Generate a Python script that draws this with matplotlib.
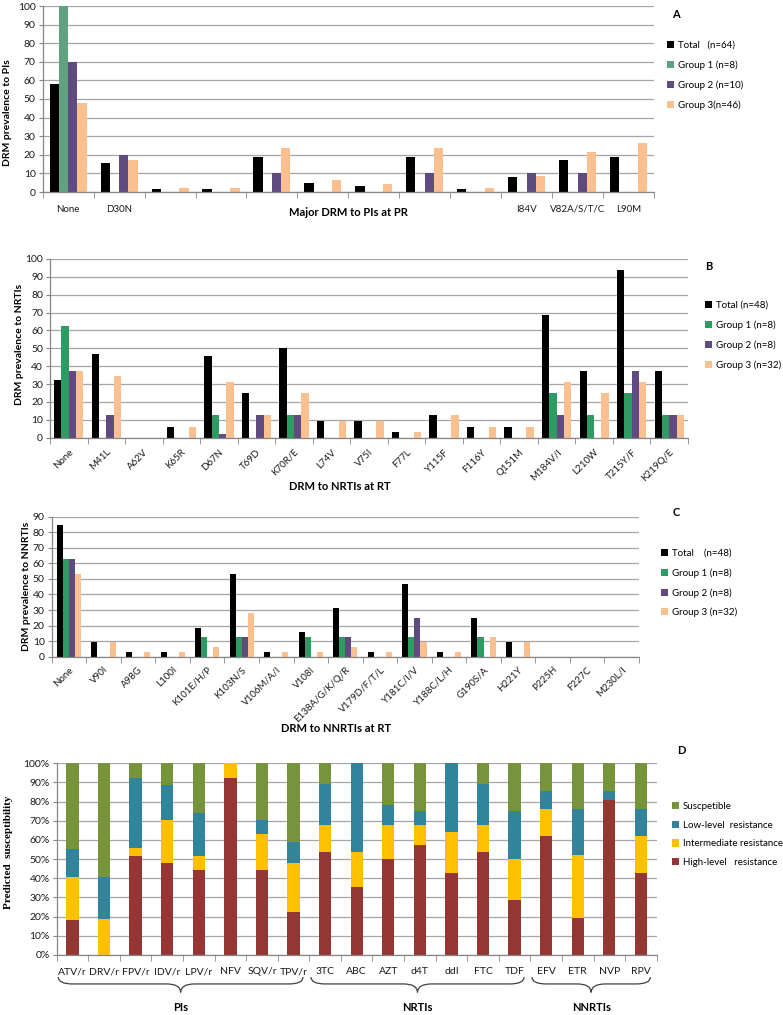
import numpy as np
import matplotlib
matplotlib.use('Agg')
import matplotlib.pyplot as plt
from matplotlib.patches import Patch, PathPatch
from matplotlib.path import Path
import matplotlib.transforms as mtransforms
from matplotlib.ticker import FuncFormatter

plt.rcParams['font.family'] = ['Lato', 'DejaVu Sans']

# ---------------- Panel A: PIs at PR ----------------
a_labels = ["None", "D30N", "", "", "", "", "", "", "", "I84V", "V82A/S/T/C", "L90M"]
a_total = [57.8, 15.6, 1.6, 1.6, 18.8, 4.7, 3.1, 18.8, 1.6, 7.8, 17.2, 18.8]
a_g1 = [100, 0, 0, 0, 0, 0, 0, 0, 0, 0, 0, 0]
a_g2 = [70, 20, 0, 0, 10, 0, 0, 10, 0, 10, 10, 0]
a_g3 = [47.8, 17.4, 2.2, 2.2, 23.9, 6.5, 4.3, 23.9, 2.2, 8.7, 21.7, 26.1]
a_legend = ["Total   (n=64)", "Group 1 (n=8)", "Group 2 (n=10)", "Group 3(n=46)"]

# ---------------- Panel B: NRTIs at RT ----------------
b_labels = ["None", "M41L", "A62V", "K65R", "D67N", "T69D", "K70R/E", "L74V", "V75I",
            "F77L", "Y115F", "F116Y", "Q151M", "M184V/I", "L210W", "T215Y/F", "K219Q/E"]
b_total = [32.5, 46.9, 0, 6.25, 45.8, 25, 50, 9.4, 9.4, 3.1, 12.5, 6.25, 6.25, 68.75, 37.5, 93.75, 37.5]
b_g1 = [62.5, 0, 0, 0, 12.5, 0, 12.5, 0, 0, 0, 0, 0, 0, 25, 12.5, 25, 12.5]
b_g2 = [37.5, 12.5, 0, 0, 2, 12.5, 12.5, 0, 0, 0, 0, 0, 0, 12.5, 0, 37.5, 12.5]
b_g3 = [37.5, 34.4, 0, 6.25, 31.25, 12.5, 25, 9.4, 9.4, 3.1, 12.5, 6.25, 6.25, 31.25, 25, 31.25, 12.5]
b_legend = ["Total (n=48)", "Group 1 (n=8)", "Group 2 (n=8)", "Group 3 (n=32)"]

# ---------------- Panel C: NNRTIs at RT ----------------
c_labels = ["None", "V90I", "A98G", "L100I", "K101E/H/P", "K103N/S", "V106M/A/I", "V108I",
            "E138A/G/K/Q/R", "V179D/F/T/L", "Y181C/I/V", "Y188C/L/H", "G190S/A", "H221Y",
            "P225H", "F227C", "M230L/I"]
c_total = [84.5, 9.4, 3.1, 3.1, 18.75, 53.1, 3.1, 15.6, 31.25, 3.1, 46.9, 3.1, 25, 9.4, 0, 0, 0]
c_g1 = [62.5, 0, 0, 0, 12.5, 12.5, 0, 12.5, 12.5, 0, 12.5, 0, 12.5, 0, 0, 0, 0]
c_g2 = [62.5, 0, 0, 0, 0, 12.5, 0, 0, 12.5, 0, 25, 0, 0, 0, 0, 0, 0]
c_g3 = [53.1, 9.4, 3.1, 3.1, 6.25, 28.1, 3.1, 3.1, 6.25, 3.1, 9.4, 3.1, 12.5, 9.4, 0, 0, 0]
c_legend = ["Total    (n=48)", "Group 1 (n=8)", "Group 2 (n=8)", "Group 3 (n=32)"]

# ---------------- Panel D: predicted susceptibility ----------------
d_labels = ["ATV/r", "DRV/r", "FPV/r", "IDV/r", "LPV/r", "NFV", "SQV/r", "TPV/r",
            "3TC", "ABC", "AZT", "d4T", "ddI", "FTC", "TDF",
            "EFV", "ETR", "NVP", "RPV"]
d_high = [18.5, 0, 51.8, 48.2, 44.3, 92.5, 44.3, 22.3, 53.6, 35.7, 50, 57.2, 42.9, 53.6, 28.7, 62.1, 19.1, 80.9, 42.9]
d_inter = [22, 18.6, 3.8, 22.2, 7.5, 7.5, 18.7, 25.9, 14.2, 17.9, 17.8, 10.6, 21.4, 14.2, 21.2, 14.1, 33.2, 0, 19.2]
d_low = [15, 21.9, 36.9, 18.3, 22.1, 0, 7.4, 10.9, 21.4, 46.4, 10.6, 7.3, 35.7, 21.6, 25.1, 9.5, 23.9, 4.8, 14.1]
d_susc = [44.5, 59.5, 7.5, 11.3, 26.1, 0, 29.6, 40.9, 10.8, 0, 21.6, 24.9, 0, 10.6, 25, 14.3, 23.8, 14.3, 23.8]
d_legend = ["Suscpetible", "Low-level  resistance", "Intermediate resistance", "High-level   resistance"]
d_classes = ["PIs", "NRTIs", "NNRTIs"]
d_class_counts = [8, 7, 4]

# ---------------- styling ----------------
W, H = 783, 1015
C_TOTAL = '#000000'
C_G1A = '#5fa27f'
C_G1 = '#2f9a62'
C_G2 = '#5f4b80'
C_G3 = '#fac090'
C_HIGH = '#943634'
C_INTER = '#ffc000'
C_LOW = '#31849b'
C_SUSC = '#77933c'
GRID = '#a6a6a6'
AXC = '#868686'
TXT = '#1a1a1a'
FS = 7

fig = plt.figure(figsize=(W / 100, H / 100), dpi=100)


def px_ax(l, t, r, b):
    return fig.add_axes([l / W, 1 - b / H, (r - l) / W, (b - t) / H])


def ftext(x, y, s, **kw):
    fig.text(x / W, 1 - y / H, s, **kw)


def style(ax, n, ymax, ystep):
    ax.set_xlim(-0.5, n - 0.5)
    ax.set_ylim(0, ymax)
    ax.set_yticks(np.arange(0, ymax + 0.1, ystep))
    ax.yaxis.grid(True, color=GRID, lw=0.9)
    ax.set_axisbelow(True)
    for s in ['top', 'right']:
        ax.spines[s].set_visible(False)
    for s in ['left', 'bottom']:
        ax.spines[s].set_color(AXC)
        ax.spines[s].set_linewidth(0.9)
    ax.set_xticks(np.arange(n + 1) - 0.5, minor=True)
    ax.tick_params(axis='x', which='minor', length=4, color=AXC, direction='out')
    ax.tick_params(axis='x', which='major', length=0, labelsize=FS, labelcolor=TXT)
    ax.tick_params(axis='y', length=3, color=AXC, labelsize=FS + 0.5, labelcolor=TXT, pad=2)


def grouped(ax, series, colors, width):
    n = len(series[0])
    x = np.arange(n)
    offs = (np.arange(len(series)) - (len(series) - 1) / 2) * width
    for s, c, o in zip(series, colors, offs):
        ax.bar(x + o, s, width, color=c, linewidth=0)


def add_legend(ax, labels, colors, x, y, spacing):
    handles = [Patch(facecolor=c, edgecolor='none') for c in colors]
    ax.legend(handles, labels, loc='upper left', bbox_to_anchor=(x / W, 1 - y / H),
              bbox_transform=fig.transFigure, frameon=False, fontsize=FS,
              handlelength=0.75, handleheight=0.75, handletextpad=0.35,
              labelspacing=spacing, borderpad=0, borderaxespad=0)


# ----- Panel A -----
axA = px_ax(42.7, 6, 654, 192)
grouped(axA, [a_total, a_g1, a_g2, a_g3], [C_TOTAL, C_G1A, C_G2, C_G3], 0.182)
style(axA, len(a_labels), 100, 10)
axA.set_xticks(np.arange(len(a_labels)))
axA.set_xticklabels(a_labels)
axA.tick_params(axis='x', which='major', pad=9)
ftext(348, 212, "Major DRM to PIs at PR", ha='center', va='center', fontsize=8, fontweight='bold')
ftext(8, 113, "DRM prevalence to PIs", rotation=90, ha='center', va='center', fontsize=7.5, fontweight='bold')
ftext(672, 14, "A", ha='left', va='center', fontsize=8, fontweight='bold')
add_legend(axA, a_legend, [C_TOTAL, C_G1A, C_G2, C_G3], 667, 41, 1.08)

# ----- Panel B -----
axB = px_ax(50, 259, 688, 437.7)
grouped(axB, [b_total, b_g1, b_g2, b_g3], [C_TOTAL, C_G1, C_G2, C_G3], 0.195)
style(axB, len(b_labels), 100, 10)
axB.set_xticks(np.arange(len(b_labels)))
axB.set_xticklabels(b_labels, rotation=45, ha='right', va='top', rotation_mode='anchor')
axB.tick_params(axis='x', which='major', pad=7)
ftext(340, 487, "DRM to NRTIs at RT", ha='center', va='center', fontsize=8, fontweight='bold')
ftext(20, 344, "DRM prevalence to NRTIs", rotation=90, ha='center', va='center', fontsize=7.5, fontweight='bold')
ftext(705, 266, "B", ha='left', va='center', fontsize=8, fontweight='bold')
add_legend(axB, b_legend, [C_TOTAL, C_G1, C_G2, C_G3], 705, 301, 1.08)

# ----- Panel C -----
axC = px_ax(51.7, 516.7, 639, 656.7)
grouped(axC, [c_total, c_g1, c_g2, c_g3], [C_TOTAL, C_G1, C_G2, C_G3], 0.175)
style(axC, len(c_labels), 90, 10)
axC.set_xticks(np.arange(len(c_labels)))
axC.set_xticklabels(c_labels, rotation=45, ha='right', va='top', rotation_mode='anchor')
axC.tick_params(axis='x', which='major', pad=6)
ftext(336, 728, "DRM to NNRTIs at RT", ha='center', va='center', fontsize=8, fontweight='bold')
ftext(27, 586, "DRM prevalence to NNRTIs", rotation=90, ha='center', va='center', fontsize=7.5, fontweight='bold')
ftext(673, 512, "C", ha='left', va='center', fontsize=8, fontweight='bold')
add_legend(axC, c_legend, [C_TOTAL, C_G1, C_G2, C_G3], 661, 549, 1.05)

# ----- Panel D -----
axD = px_ax(56.7, 763.3, 656.7, 955)
xd = np.arange(len(d_labels))
bw = 0.39
bottom = np.zeros(len(d_labels))
for vals, col in [(d_high, C_HIGH), (d_inter, C_INTER), (d_low, C_LOW), (d_susc, C_SUSC)]:
    axD.bar(xd, vals, bw, bottom=bottom, color=col, linewidth=0)
    bottom = bottom + np.array(vals)
style(axD, len(d_labels), 100, 10)
axD.yaxis.set_major_formatter(FuncFormatter(lambda v, p: f"{int(round(v))}%"))
axD.set_xticks(xd)
axD.set_xticklabels(d_labels)
axD.tick_params(axis='x', which='major', pad=9, labelsize=7.5)
ftext(9, 852, "Predicted  susceptibility", rotation=90, ha='center', va='center', fontsize=8,
      fontweight='bold', family=['Liberation Serif', 'DejaVu Serif'])
ftext(677, 750, "D", ha='left', va='center', fontsize=8, fontweight='bold')
add_legend(axD, d_legend, [C_SUSC, C_LOW, C_INTER, C_HIGH], 672, 802, 1.0)

# braces under class groups
trans = mtransforms.blended_transform_factory(axD.transData, axD.transAxes)


def brace(x0, x1, xm, ytop, ybot, d=0.45):
    ymid = ytop + (ybot - ytop) * 0.45
    verts = [(x0, ytop), (x0, ymid), (x0 + d, ymid),
             (xm - d, ymid),
             (xm, ymid), (xm, ybot),
             (xm, ymid), (xm + d, ymid),
             (x1 - d, ymid),
             (x1, ymid), (x1, ytop)]
    codes = [Path.MOVETO, Path.CURVE3, Path.CURVE3,
             Path.LINETO,
             Path.CURVE3, Path.CURVE3,
             Path.CURVE3, Path.CURVE3,
             Path.LINETO,
             Path.CURVE3, Path.CURVE3]
    pp = PathPatch(Path(verts, codes), fill=False, edgecolor='#404040', lw=0.9,
                   transform=trans, clip_on=False)
    axD.add_patch(pp)


start = 0
for name, cnt in zip(d_classes, d_class_counts):
    x0 = start - 0.45
    x1 = start + cnt - 1 + 0.3
    xm = (x0 + x1) / 2
    brace(x0, x1, xm, -0.115, -0.195)
    axD.text(xm, -0.275, name, transform=trans, ha='center', va='center',
             fontsize=8, fontweight='bold')
    start += cnt

fig.savefig('out.png', dpi=100)
